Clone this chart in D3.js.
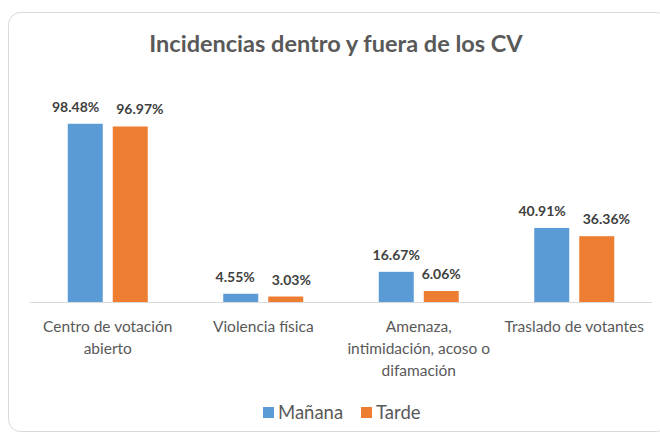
<!DOCTYPE html>
<html>
<head>
<meta charset="utf-8">
<script src="https://cdn.jsdelivr.net/npm/d3@7"></script>
<style>
  body { margin: 0; background: #fff; }
  svg { display: block; font-family: Lato, "Open Sans", sans-serif; }
</style>
</head>
<body>
<div id="chart"></div>
<script>
// chart values
var categories = [
  ["Centro de votación", "abierto"],
  ["Violencia física"],
  ["Amenaza,", "intimidación, acoso o", "difamación"],
  ["Traslado de votantes"]
];
var seriesNames = ["Mañana", "Tarde"];
var manana = [98.48, 4.55, 16.67, 40.91];
var tarde = [96.97, 3.03, 6.06, 36.36];
var colors = ["#5B9BD5", "#ED7D31"];

var W = 660, H = 436;
var margin = {left: 30, right: 8, top: 121, bottom: 134};
var baseY = H - margin.bottom; // 302

var svg = d3.select("#chart").append("svg")
    .attr("width", W)
    .attr("height", H);

// chart frame
svg.append("rect")
    .attr("x", 8.5).attr("y", 12.5)
    .attr("width", 660).attr("height", 419)
    .attr("rx", 12)
    .attr("fill", "#fff")
    .attr("stroke", "#d9d9d9");

svg.append("text")
    .attr("x", 336).attr("y", 52)
    .attr("text-anchor", "middle")
    .attr("font-size", 23.5)
    .attr("font-weight", 700)
    .attr("fill", "#595959")
    .text("Incidencias dentro y fuera de los CV");

var x0 = d3.scaleBand()
    .domain(d3.range(categories.length))
    .range([margin.left, W - margin.right]);

var y = d3.scaleLinear()
    .domain([0, 100])
    .range([baseY, margin.top]);

// axis line
svg.append("line")
    .attr("x1", margin.left).attr("x2", W - margin.right)
    .attr("y1", baseY + 0.5).attr("y2", baseY + 0.5)
    .attr("stroke", "#d9d9d9");

var rows = [];
categories.forEach(function(c, i) {
  rows.push({cat: i, s: 0, v: manana[i]});
  rows.push({cat: i, s: 1, v: tarde[i]});
});

var barW = 35, barGap = 10;
function barX(d) {
  var c = x0(d.cat) + x0.bandwidth() / 2;
  return c - (2 * barW + barGap) / 2 + d.s * (barW + barGap);
}

svg.append("g").selectAll("rect")
  .data(rows)
  .join("rect")
    .attr("x", barX)
    .attr("y", d => y(d.v))
    .attr("width", barW)
    .attr("height", d => baseY - y(d.v))
    .attr("fill", d => colors[d.s]);

var labels = svg.append("g")
    .attr("font-size", 14)
    .attr("font-weight", 700)
    .attr("fill", "#404040")
    .attr("text-anchor", "middle")
  .selectAll("text")
  .data(rows)
  .join("text")
    .attr("x", d => barX(d) + barW / 2)
    .attr("y", d => y(d.v) - 12)
    .text(d => d.v.toFixed(2) + "%");

// push apart labels of a group that would touch (like Excel does)
labels.each(function(d) { d.w = this.getComputedTextLength(); });
categories.forEach(function(c, i) {
  var pair = labels.filter(d => d.cat === i);
  var a = pair.datum(), nodes = pair.nodes();
  var da = d3.select(nodes[0]).datum(), db = d3.select(nodes[1]).datum();
  var xa = barX(da) + barW / 2, xb = barX(db) + barW / 2;
  var vOverlap = Math.abs(y(da.v) - y(db.v)) < 14;
  var gap = (xb - db.w / 2) - (xa + da.w / 2);
  if (vOverlap && gap < 17) {
    var shift = (17 - gap) / 2;
    d3.select(nodes[0]).attr("x", xa - shift);
    d3.select(nodes[1]).attr("x", xb + shift);
  }
});

// category labels
var catG = svg.append("g")
    .attr("font-size", 15.5)
    .attr("fill", "#595959")
    .attr("text-anchor", "middle");
categories.forEach(function(lines, i) {
  var cx = x0(i) + x0.bandwidth() / 2;
  var t = catG.append("text").attr("x", cx).attr("y", 332);
  lines.forEach(function(l, k) {
    t.append("tspan")
      .attr("x", cx)
      .attr("dy", k === 0 ? 0 : 22)
      .text(l);
  });
});

// legend
var legend = svg.append("g").attr("font-size", 18.5).attr("fill", "#595959");
var lx = [263, 361];
seriesNames.forEach(function(n, i) {
  legend.append("rect")
    .attr("x", lx[i]).attr("y", 407)
    .attr("width", 11).attr("height", 11)
    .attr("fill", colors[i]);
  legend.append("text")
    .attr("x", lx[i] + 15).attr("y", 419)
    .text(n);
});
</script>
</body>
</html>
